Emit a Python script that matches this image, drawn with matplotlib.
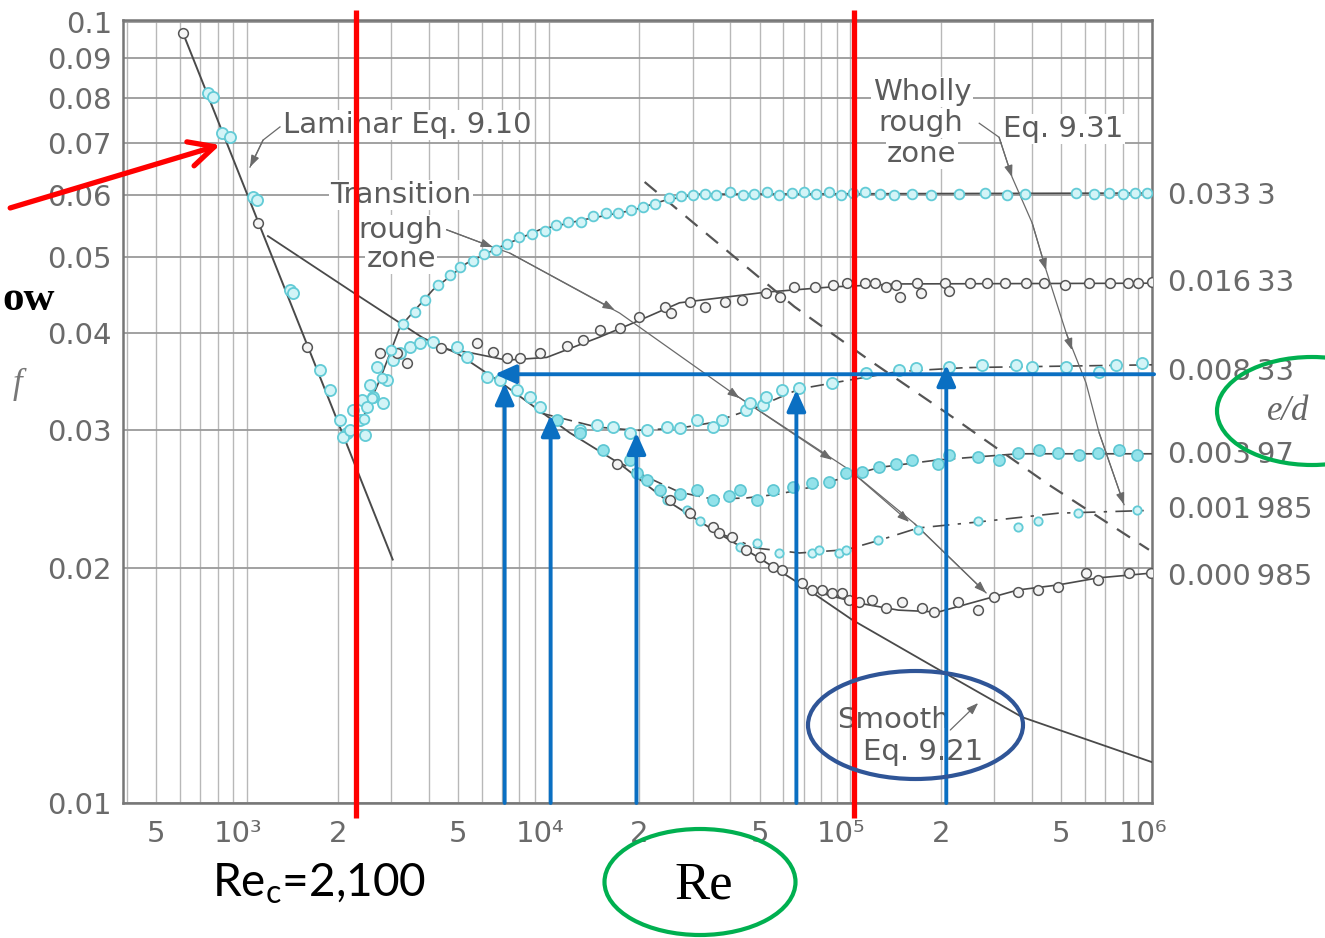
import numpy as np
import matplotlib
matplotlib.use("Agg")
import matplotlib.pyplot as plt
from matplotlib.patches import Ellipse
from matplotlib.ticker import FixedLocator, NullLocator, LogLocator, NullFormatter
from matplotlib.transforms import blended_transform_factory, ScaledTranslation

plt.rcParams['font.family'] = ['DejaVu Sans']
plt.rcParams['mathtext.fontset'] = 'custom'
plt.rcParams['mathtext.rm'] = 'Lato'
plt.rcParams['mathtext.it'] = 'Lato:italic'

# ---------------- axes / ticks ----------------
x_min, x_max = 388, 1.0e6
y_min, y_max = 0.01, 0.1006
x_tick_vals = [500, 1e3, 2e3, 5e3, 1e4, 2e4, 5e4, 1e5, 2e5, 5e5, 1e6]
x_tick_labels = ['5', '10³', '2', '5', '10⁴', '2', '5', '10⁵', '2', '5', '10⁶']
y_tick_vals = [0.01, 0.02, 0.03, 0.04, 0.05, 0.06, 0.07, 0.08, 0.09, 0.1]
y_tick_labels = ['0.01', '0.02', '0.03', '0.04', '0.05', '0.06', '0.07', '0.08', '0.09', '0.1']

# relative roughness labels (right side)
ed_labels = ['0.033\u20093', '0.016\u200933', '0.008\u200933', '0.003\u200997',
             '0.001\u2009985', '0.000\u2009985']
ed_label_f = [0.0599, 0.0463, 0.0356, 0.0279, 0.0237, 0.01946]

# ---------------- curves ----------------
lam_re = [614, 3040]
lam_f = [0.0967, 0.0205]

smooth_re = [1173, 2259, 3830, 5000, 6980, 11730, 17180, 24600, 34900, 48800,
             66300, 101700, 189800, 371300, 1.0e6]
smooth_f = [0.0532, 0.0450, 0.0394, 0.0376, 0.0345, 0.0298, 0.0272, 0.0244, 0.0224,
            0.0207, 0.0192, 0.01715, 0.01493, 0.01288, 0.01128]

c1_re = [2366, 2754, 3215, 4133, 5346, 6879, 9334, 12960, 18970, 24580, 31620, 1.0e6]
c1_f = [0.0305, 0.0348, 0.0407, 0.0454, 0.0491, 0.0515, 0.0542, 0.0558, 0.0574,
        0.0592, 0.0602, 0.0604]

c2_re = [4355, 5352, 7261, 9849, 14750, 20000, 27140, 52700, 87150, 145200, 1.0e6]
c2_f = [0.0382, 0.0378, 0.0369, 0.0372, 0.0395, 0.0415, 0.0437, 0.0451, 0.0458,
        0.0462, 0.0463]

c3_re = [9334, 14420, 19560, 27160, 34920, 48860, 67800, 99300, 145300, 242000, 1.0e6]
c3_f = [0.0316, 0.0303, 0.0300, 0.0302, 0.0307, 0.0321, 0.0339, 0.0348, 0.0357,
        0.0361, 0.0364]

c4_re = [16540, 21120, 27160, 34920, 45240, 58210, 74850, 96970, 124800, 195600,
         359600, 1.0e6]
c4_f = [0.0275, 0.02615, 0.0250, 0.0245, 0.02458, 0.02487, 0.0254, 0.02615, 0.0269,
        0.0275, 0.0280, 0.0280]

c5_re = [36810, 48860, 67800, 96970, 124800, 167900, 265400, 488400, 1.0e6]
c5_f = [0.02216, 0.0212, 0.0209, 0.0211, 0.0217, 0.0225, 0.0229, 0.0235, 0.0237]

c6_re = [73100, 106300, 144200, 195600, 265400, 359600, 488400, 662500, 1.0e6]
c6_f = [0.01874, 0.01803, 0.01766, 0.01756, 0.01814, 0.01874, 0.01902, 0.01942, 0.0197]

rough_re = [20800, 31620, 65260, 115600, 208000, 456000, 977000]
rough_f = [0.0624, 0.0545, 0.0432, 0.0369, 0.0316, 0.02554, 0.0211]

# leader lines
trans_re = [4590, 6525, 7430, 17180, 40640, 99300, 163000, 281800]
trans_f = [0.0542, 0.0515, 0.0506, 0.0424, 0.0335, 0.0267, 0.0228, 0.01858]
trans_tip_re = [6525, 16540, 42910, 87150, 156700, 281800]
trans_tip_f = [0.0515, 0.0428, 0.0330, 0.0275, 0.0229, 0.01858]

eq931_re = [267500, 311200, 343700, 400600, 445800, 519300, 604400, 667700, 807900]
eq931_f = [0.0742, 0.0712, 0.0633, 0.0553, 0.0481, 0.0400, 0.0345, 0.0298, 0.0241]
eq931_tip_re = [343700, 445800, 543400, 807900]
eq931_tip_f = [0.0633, 0.0481, 0.0380, 0.0241]

lamlead_re = [1286, 1130, 1023]
lamlead_f = [0.0734, 0.0706, 0.0652]
smlead_re = [214400, 265400]
smlead_f = [0.0124, 0.01343]

# ---------------- measured points ----------------
lamdata_re = [742, 771, 826, 878, 1047, 1079, 1388, 1419, 1747, 1885, 2031, 2143, 2080,
              2193, 2244, 2366, 2403, 2455, 2495, 2557, 2612, 2819, 2908, 2691, 3040,
              3212, 3467, 3742, 4132]
lamdata_f = [0.0811, 0.0802, 0.0721, 0.0712, 0.0597, 0.0592, 0.0454, 0.0450, 0.0358,
             0.0338, 0.0309, 0.0298, 0.0294, 0.0300, 0.0319, 0.0309, 0.0328, 0.0296,
             0.0321, 0.0343, 0.0331, 0.0325, 0.0348, 0.0362, 0.0369, 0.0377, 0.0384,
             0.0388, 0.0389]
lamdark_re = [614, 1088, 1580, 2754, 3141, 3388]
lamdark_f = [0.0967, 0.0553, 0.0384, 0.0377, 0.0377, 0.0366]

p1_re = [2450, 2600, 2800, 3000, 3300, 3600, 3900, 4300, 4700, 5100, 5600, 6100, 6700,
         7300, 8000, 8800, 9700, 10600, 11600, 12800, 14000, 15500, 17000, 18800,
         20500, 22500, 25000, 27500, 30000, 33000, 36000, 40000, 44000, 48000, 53000,
         58000, 64000, 70000, 77000, 85000, 93000, 102000, 112000, 125000, 140000,
         160000, 185000, 230000, 280000, 330000, 380000, 560000, 640000, 720000,
         800000, 880000, 960000]
p1_f = [0.0310, 0.0330, 0.0350, 0.0380, 0.0410, 0.0425, 0.0440, 0.0460, 0.0475, 0.0485,
        0.0495, 0.0505, 0.0510, 0.0520, 0.0530, 0.0535, 0.0540, 0.0550, 0.0555, 0.0555,
        0.0565, 0.0570, 0.0570, 0.0575, 0.0580, 0.0585, 0.0595, 0.0598, 0.0600, 0.0603,
        0.0600, 0.0605, 0.0600, 0.0603, 0.0606, 0.0600, 0.0604, 0.0606, 0.0602, 0.0605,
        0.0600, 0.0604, 0.0605, 0.0602, 0.0600, 0.0603, 0.0600, 0.0602, 0.0604, 0.0600,
        0.0603, 0.0604, 0.0602, 0.0604, 0.0603, 0.0604, 0.0604]

p2_re = [4400, 5776, 6525, 7261, 8017, 9334, 11470, 12960, 14750, 17180, 20000, 24380,
         25500, 29300, 33000, 38280, 43900, 52700, 58650, 65260, 76600, 87900, 97800,
         112200, 121100, 131600, 142000, 146400, 166800, 171900, 206400, 212900,
         249600, 284200, 326000, 382500, 438900, 515000, 618600, 726000, 833000,
         898700, 1.0e6]
p2_f = [0.0383, 0.0388, 0.0378, 0.0371, 0.0371, 0.0377, 0.0385, 0.0392, 0.0403, 0.0406,
        0.0419, 0.0432, 0.0424, 0.0438, 0.0432, 0.0438, 0.0441, 0.0450, 0.0445, 0.0458,
        0.0458, 0.0460, 0.0463, 0.0463, 0.0463, 0.0458, 0.0460, 0.0445, 0.0463, 0.0450,
        0.0463, 0.0452, 0.0463, 0.0463, 0.0463, 0.0463, 0.0463, 0.0460, 0.0463, 0.0463,
        0.0463, 0.0463, 0.0465]

p3_re = [4957, 5346, 6237, 6879, 7840, 8650, 9340, 12670, 14420, 16290, 18540, 21120,
         24600, 27160, 30910, 34920, 37670, 45240, 46350, 51150, 52700, 59550, 67800,
         87150, 112900, 145300, 165400, 212900, 273700, 354400, 400600, 519300, 667700,
         760000, 926000]
p3_f = [0.0384, 0.0372, 0.0351, 0.0348, 0.0338, 0.0331, 0.0321, 0.0300, 0.0305, 0.0303,
        0.0298, 0.0300, 0.0303, 0.0302, 0.0309, 0.0303, 0.0309, 0.0319, 0.0325, 0.0323,
        0.0331, 0.0338, 0.0340, 0.0345, 0.0355, 0.0358, 0.0361, 0.0362, 0.0364, 0.0364,
        0.0362, 0.0362, 0.0356, 0.0364, 0.0366]

p4_re = [10630, 12670, 15100, 18540, 19560, 21120, 23310, 27160, 30910, 34920, 39720,
         42910, 48860, 55210, 64330, 74850, 85140, 96970, 109600, 124800, 142000,
         160400, 195600, 212900, 265400, 311200, 359600, 422300, 488400, 572800,
         662500, 777600, 891000]
p4_f = [0.0309, 0.0298, 0.0283, 0.0275, 0.02645, 0.0259, 0.0252, 0.0249, 0.0252, 0.0244,
        0.0247, 0.0252, 0.0244, 0.0252, 0.0254, 0.0257, 0.0258, 0.02645, 0.0265, 0.0269,
        0.0272, 0.0275, 0.0272, 0.0279, 0.0277, 0.0275, 0.0281, 0.0283, 0.0281, 0.0279,
        0.0281, 0.0283, 0.0279]

p5_re = [24600, 28640, 31620, 42910, 48860, 58210, 74850, 78850, 92020, 96970, 123900,
         167900, 265400, 359600, 419400, 568800, 891000]
p5_f = [0.0244, 0.0237, 0.0230, 0.02127, 0.0215, 0.0209, 0.0209, 0.0211, 0.0209, 0.0211,
        0.0217, 0.02237, 0.0230, 0.02256, 0.0230, 0.0235, 0.0237]

p6_re = [16790, 25160, 29300, 34920, 36810, 40640, 45240, 50000, 55210, 59550, 69340,
         74850, 80700, 87150, 94090, 99300, 107200, 118300, 131600, 148500, 173000,
         189800, 227800, 265400, 299700, 359600, 419400, 488400, 604400, 662500,
         839500, 990000]
p6_f = [0.0272, 0.0244, 0.0235, 0.02256, 0.02216, 0.0219, 0.0211, 0.02065, 0.02005,
        0.01988, 0.01912, 0.01874, 0.01874, 0.01858, 0.01858, 0.0182, 0.0181, 0.0182,
        0.01777, 0.0181, 0.01777, 0.01756, 0.0181, 0.01766, 0.01835, 0.01863, 0.01874,
        0.0189, 0.0197, 0.0193, 0.0197, 0.0197]

# ---------------- overlay annotations ----------------
red_line_re = [2300, 103000]
blue_up_re = [7145, 10150, 19540, 66240, 208000]
blue_up_tip_f = [0.0345, 0.0314, 0.0298, 0.0338, 0.0364]
blue_h_f = 0.0354
blue_h_from_re, blue_h_to_re = 1.016e6, 6625
red_arrow_from = (164, 0.0578)
red_arrow_to = (814, 0.0696)

# =====================================================
W, H = 1325, 938
fig = plt.figure(figsize=(W / 100, H / 100), dpi=100)
fig.patch.set_facecolor('white')


def px(x, y):
    return (x / W, 1 - y / H)


ax = fig.add_axes([123 / W, 1 - 803 / H, (1152 - 123) / W, (803 - 20) / H])
ax.set_xscale('log')
ax.set_yscale('log')
ax.set_xlim(x_min, x_max)
ax.set_ylim(y_min, y_max)

ax.set_xticks(x_tick_vals)
ax.set_xticklabels(x_tick_labels)
ax.xaxis.set_minor_locator(LogLocator(base=10, subs=np.arange(1, 10), numticks=40))
ax.xaxis.set_minor_formatter(NullFormatter())
ax.set_yticks(y_tick_vals)
ax.set_yticklabels(y_tick_labels)
ax.yaxis.set_minor_locator(NullLocator())
ax.tick_params(which='both', length=0)
TXT = '#6a6a6a'
ax.tick_params(axis='x', pad=12, labelsize=21, labelcolor=TXT)
ax.tick_params(axis='y', pad=8, labelsize=21, labelcolor=TXT)
for lab in ax.get_xticklabels():
    if lab.get_text().startswith('10'):
        lab.set_transform(lab.get_transform() +
                          ScaledTranslation(-9 / 100, 0, fig.dpi_scale_trans))
ax.grid(True, axis='x', which='both', color='#b8b8b8', lw=1.0, zorder=0)
ax.grid(True, axis='y', which='major', color='#9a9a9a', lw=1.3, zorder=0)
ax.set_axisbelow(True)
for s in ax.spines.values():
    s.set_color('#777777')
    s.set_linewidth(1.8)

# ---- curves
LC = '#4a4a4a'
ax.plot(lam_re, lam_f, color=LC, lw=1.4, zorder=3)
ax.plot(smooth_re, smooth_f, color=LC, lw=1.3, zorder=3)
ax.plot(c1_re, c1_f, color=LC, lw=1.2, zorder=3)
ax.plot(c2_re, c2_f, color=LC, lw=1.2, zorder=3)
ax.plot(c3_re, c3_f, color=LC, lw=1.2, dashes=(8, 4), zorder=3)
ax.plot(c4_re, c4_f, color=LC, lw=1.2, dashes=(8, 4), zorder=3)
ax.plot(c5_re, c5_f, color=LC, lw=1.2, dashes=(10, 5, 2, 5), zorder=3)
ax.plot(c6_re, c6_f, color=LC, lw=1.2, zorder=3)
ax.plot(rough_re, rough_f, color='#555555', lw=1.6, dashes=(7, 5), zorder=3)

# ---- data points
cyan = dict(ls='none', marker='o', ms=8, mfc='#d3f4f7', mec='#62cbd6', mew=1.3, zorder=4)
cyan_f = dict(ls='none', marker='o', ms=8, mfc='#93e2ea', mec='#5cc6d2', mew=1.2, zorder=4)
dark = dict(ls='none', marker='o', ms=7, mfc='#f4f4f4', mec='#555555', mew=1.1, zorder=4)
ax.plot(lamdata_re, lamdata_f, **cyan)
ax.plot(lamdark_re, lamdark_f, **dark)
ax.plot(p1_re, p1_f, **dict(cyan, ms=7))
ax.plot(p2_re, p2_f, **dark)
ax.plot(p3_re, p3_f, **cyan)
ax.plot(p4_re, p4_f, **cyan_f)
ax.plot(p5_re, p5_f, **dict(cyan, ms=6))
ax.plot(p6_re, p6_f, **dark)

# ---- thin leader lines with arrow heads
TC = '#6a6a6a'


def heads(tips_re, tips_f, path_re, path_f):
    lre = np.log10(path_re)
    for r, f in zip(tips_re, tips_f):
        i = max(int(np.searchsorted(lre, np.log10(r))) - 1, 0)
        ax.annotate('', xy=(r, f), xytext=(path_re[i], path_f[i]),
                    arrowprops=dict(arrowstyle='-|>,head_length=0.7,head_width=0.25',
                                    color=TC, lw=0.9, shrinkA=0, shrinkB=0,
                                    mutation_scale=10), zorder=3.5)


ax.plot(trans_re, trans_f, color=TC, lw=0.9, zorder=3.5)
heads(trans_tip_re, trans_tip_f, trans_re, trans_f)
ax.plot(eq931_re, eq931_f, color=TC, lw=0.9, zorder=3.5)
heads(eq931_tip_re, eq931_tip_f, eq931_re, eq931_f)
ax.plot(lamlead_re, lamlead_f, color=TC, lw=0.9, zorder=3.5)
ax.annotate('', xy=(lamlead_re[-1], lamlead_f[-1]), xytext=(lamlead_re[-2], lamlead_f[-2]),
            arrowprops=dict(arrowstyle='-|>,head_length=0.7,head_width=0.25', color=TC,
                            lw=0.9, shrinkA=0, shrinkB=0, mutation_scale=10), zorder=3.5)
ax.annotate('', xy=(smlead_re[-1], smlead_f[-1]), xytext=(smlead_re[0], smlead_f[0]),
            arrowprops=dict(arrowstyle='-|>,head_length=0.7,head_width=0.25', color=TC,
                            lw=0.9, shrinkA=0, shrinkB=0, mutation_scale=10), zorder=3.5)

# ---- chart labels
box = dict(facecolor='white', edgecolor='none', pad=1.0)
FT = fig.transFigure
lab_kw = dict(fontsize=21, color='#5c5c5c', transform=FT, zorder=5, va='baseline')
ax.text(*px(283, 133), 'Laminar Eq. 9.10', ha='left', bbox=box, **lab_kw)
ax.text(*px(401, 203), 'Transition', ha='center', bbox=box, **lab_kw)
ax.text(*px(401, 238), 'rough', ha='center', bbox=box, **lab_kw)
ax.text(*px(401, 267), 'zone', ha='center', bbox=box, **lab_kw)
ax.text(*px(922, 100), 'Wholly', ha='center', bbox=box, **lab_kw)
ax.text(*px(921, 131), 'rough', ha='center', bbox=box, **lab_kw)
ax.text(*px(922, 162), 'zone', ha='center', bbox=box, **lab_kw)
ax.text(*px(1003, 137), 'Eq. 9.31', ha='left', bbox=box, **lab_kw)
ax.text(*px(837, 728), 'Smooth', ha='left', **lab_kw)
ax.text(*px(863, 760), 'Eq. 9.21', ha='left', **lab_kw)

rt = blended_transform_factory(ax.transAxes, ax.transData)
for lab, fv in zip(ed_labels, ed_label_f):
    ax.text(1.0155, fv, lab, transform=rt, ha='left', va='center', fontsize=21,
            color=TXT, clip_on=False)

ax.text(*px(17, 393), 'f', transform=FT, family='Liberation Serif', style='italic',
        fontsize=25, color='#777777', ha='center', va='baseline')
ax.text(*px(1288, 420), 'e/d', transform=FT, family='Liberation Serif', style='italic',
        fontsize=25, color='#666666', ha='center', va='baseline', zorder=6)
ax.text(*px(2, 310), 'ow', transform=FT, family='Liberation Serif', weight='bold',
        fontsize=31, color='black', ha='left', va='baseline')
ax.text(*px(704, 898), 'Re', transform=FT, family='Liberation Serif', fontsize=38,
        color='black', ha='center', va='baseline')
ax.text(*px(212, 897), r'Re$_{\mathrm{c}}$=2,100', transform=FT, family='Lato',
        fontsize=33, color='black', ha='left', va='baseline')

# ---- red vertical lines
bt = blended_transform_factory(ax.transData, ax.transAxes)
for r in red_line_re:
    ax.plot([r, r], [-0.0192, 1.0128], transform=bt, color='#ff0000', lw=3.8,
            clip_on=False, zorder=8, solid_capstyle='butt')

# ---- blue arrows
BLUE = '#0a6fc2'
for r, tf in zip(blue_up_re, blue_up_tip_f):
    ax.annotate('', xy=(r, tf), xycoords='data', xytext=(r, 0.0), textcoords=bt,
                arrowprops=dict(arrowstyle='-|>,head_length=0.85,head_width=0.38',
                                color=BLUE, lw=2.8, shrinkA=0, shrinkB=0,
                                mutation_scale=15),
                annotation_clip=False, zorder=9)
ax.annotate('', xy=(blue_h_to_re, blue_h_f), xytext=(blue_h_from_re, blue_h_f),
            arrowprops=dict(arrowstyle='-|>,head_length=0.85,head_width=0.38',
                            color=BLUE, lw=2.8, shrinkA=0, shrinkB=0, mutation_scale=15),
            annotation_clip=False, zorder=9)

# ---- red arrow
ax.annotate('', xy=red_arrow_to, xytext=red_arrow_from,
            arrowprops=dict(arrowstyle='->,head_length=0.9,head_width=0.45',
                            color='#ff0000', lw=3.8, shrinkA=0, shrinkB=0,
                            mutation_scale=20),
            annotation_clip=False, zorder=9)

# ---- ellipses
for cx, cy, w, h, col in [(915.5, 725, 215, 108, '#2f5597'),
                          (1312, 411, 190, 108, '#00b050'),
                          (700, 882, 191, 106, '#00b050')]:
    ax.add_patch(Ellipse(px(cx, cy), w / W, h / H, transform=FT, fill=False,
                         ec=col, lw=3.0, zorder=10, clip_on=False))

fig.savefig('out.png', dpi=100, facecolor='white')
